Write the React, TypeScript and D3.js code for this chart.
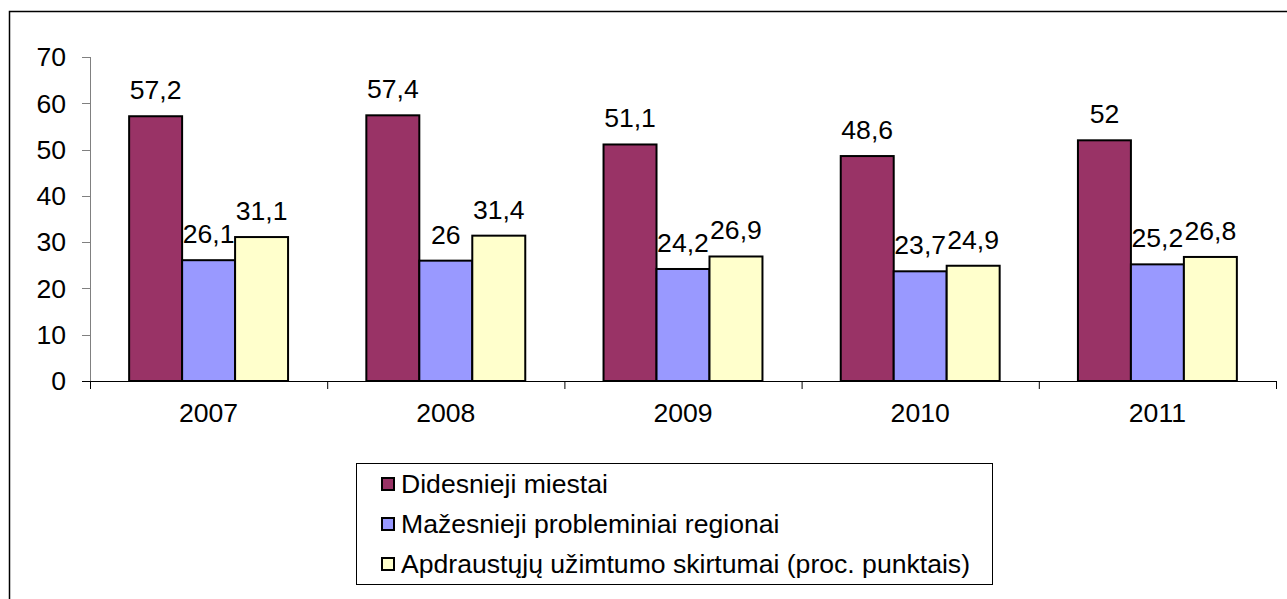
import React from 'react';
import * as d3 from 'd3';

const years = ['2007', '2008', '2009', '2010', '2011'];
const seriesNames = [
  'Didesnieji miestai',
  'Mažesnieji probleminiai regionai',
  'Apdraustųjų užimtumo skirtumai (proc. punktais)',
];
const didesnieji = [57.2, 57.4, 51.1, 48.6, 52];
const mazesnieji = [26.1, 26, 24.2, 23.7, 25.2];
const skirtumai = [31.1, 31.4, 26.9, 24.9, 26.8];
const colors = ['#993366', '#9999FF', '#FFFFCC'];
const yTicks = [0, 10, 20, 30, 40, 50, 60, 70];

const W = 1287;
const H = 599;
const font = 'Liberation Sans, Arial, sans-serif';
const fs = 26.6;

export default function App() {
  const series = [didesnieji, mazesnieji, skirtumai];
  const x0 = d3.scaleBand().domain(years).range([90, 1276]).paddingInner(0.33).paddingOuter(0.165);
  const x1 = d3.scaleBand().domain(['0', '1', '2']).range([0, x0.bandwidth()]);
  const y = d3.scaleLinear().domain([0, 70]).range([381, 57]);
  const step = (1276 - 90) / years.length;
  const fmt = (v: number) => String(v).replace('.', ',');

  return (
    <svg width={W} height={H} style={{ position: 'absolute', left: 0, top: 0 }}>
      <rect x={0} y={0} width={W} height={H} fill="#fff" />
      <rect x={9.5} y={11.5} width={W + 20} height={H + 20} fill="none" stroke="#000" strokeWidth={1.5} />

      {/* y axis */}
      <line x1={90.5} x2={90.5} y1={57} y2={389} stroke="#808080" strokeWidth={1} />
      {yTicks.map((t) => (
        <g key={t}>
          <line x1={82} x2={90} y1={Math.round(y(t)) + 0.5} y2={Math.round(y(t)) + 0.5} stroke="#808080" />
          <text x={66} y={y(t)} dy="0.35em" textAnchor="end" fontFamily={font} fontSize={fs}>
            {t}
          </text>
        </g>
      ))}

      {/* x axis */}
      <line x1={82} x2={1276} y1={381.5} y2={381.5} stroke="#000" strokeWidth={1} />
      {d3.range(years.length + 1).map((i) => (
        <line key={i} x1={90.5 + i * step} x2={90.5 + i * step} y1={381} y2={389} stroke="#000" />
      ))}
      {years.map((yr) => (
        <text key={yr} x={(x0(yr) ?? 0) + x0.bandwidth() / 2} y={422} textAnchor="middle" fontFamily={font} fontSize={fs}>
          {yr}
        </text>
      ))}

      {/* bars */}
      {series.map((vals, si) =>
        vals.map((v, i) => {
          const bx = (x0(years[i]) ?? 0) + (x1(String(si)) ?? 0);
          return (
            <g key={`${si}-${i}`}>
              <rect x={bx} y={y(v)} width={x1.bandwidth()} height={y(0) - y(v)} fill={colors[si]} stroke="#000" strokeWidth={2} />
              <text x={bx + x1.bandwidth() / 2} y={y(v) - 17} textAnchor="middle" fontFamily={font} fontSize={fs}>
                {fmt(v)}
              </text>
            </g>
          );
        })
      )}

      {/* legend */}
      <rect x={356.5} y={463.5} width={636} height={121} fill="#fff" stroke="#000" strokeWidth={1} />
      {seriesNames.map((name, i) => (
        <g key={name}>
          <rect x={382} y={478 + i * 40} width={12} height={12} fill={colors[i]} stroke="#000" strokeWidth={2} />
          <text x={401} y={493 + i * 40} fontFamily={font} fontSize={fs}>
            {name}
          </text>
        </g>
      ))}
    </svg>
  );
}
